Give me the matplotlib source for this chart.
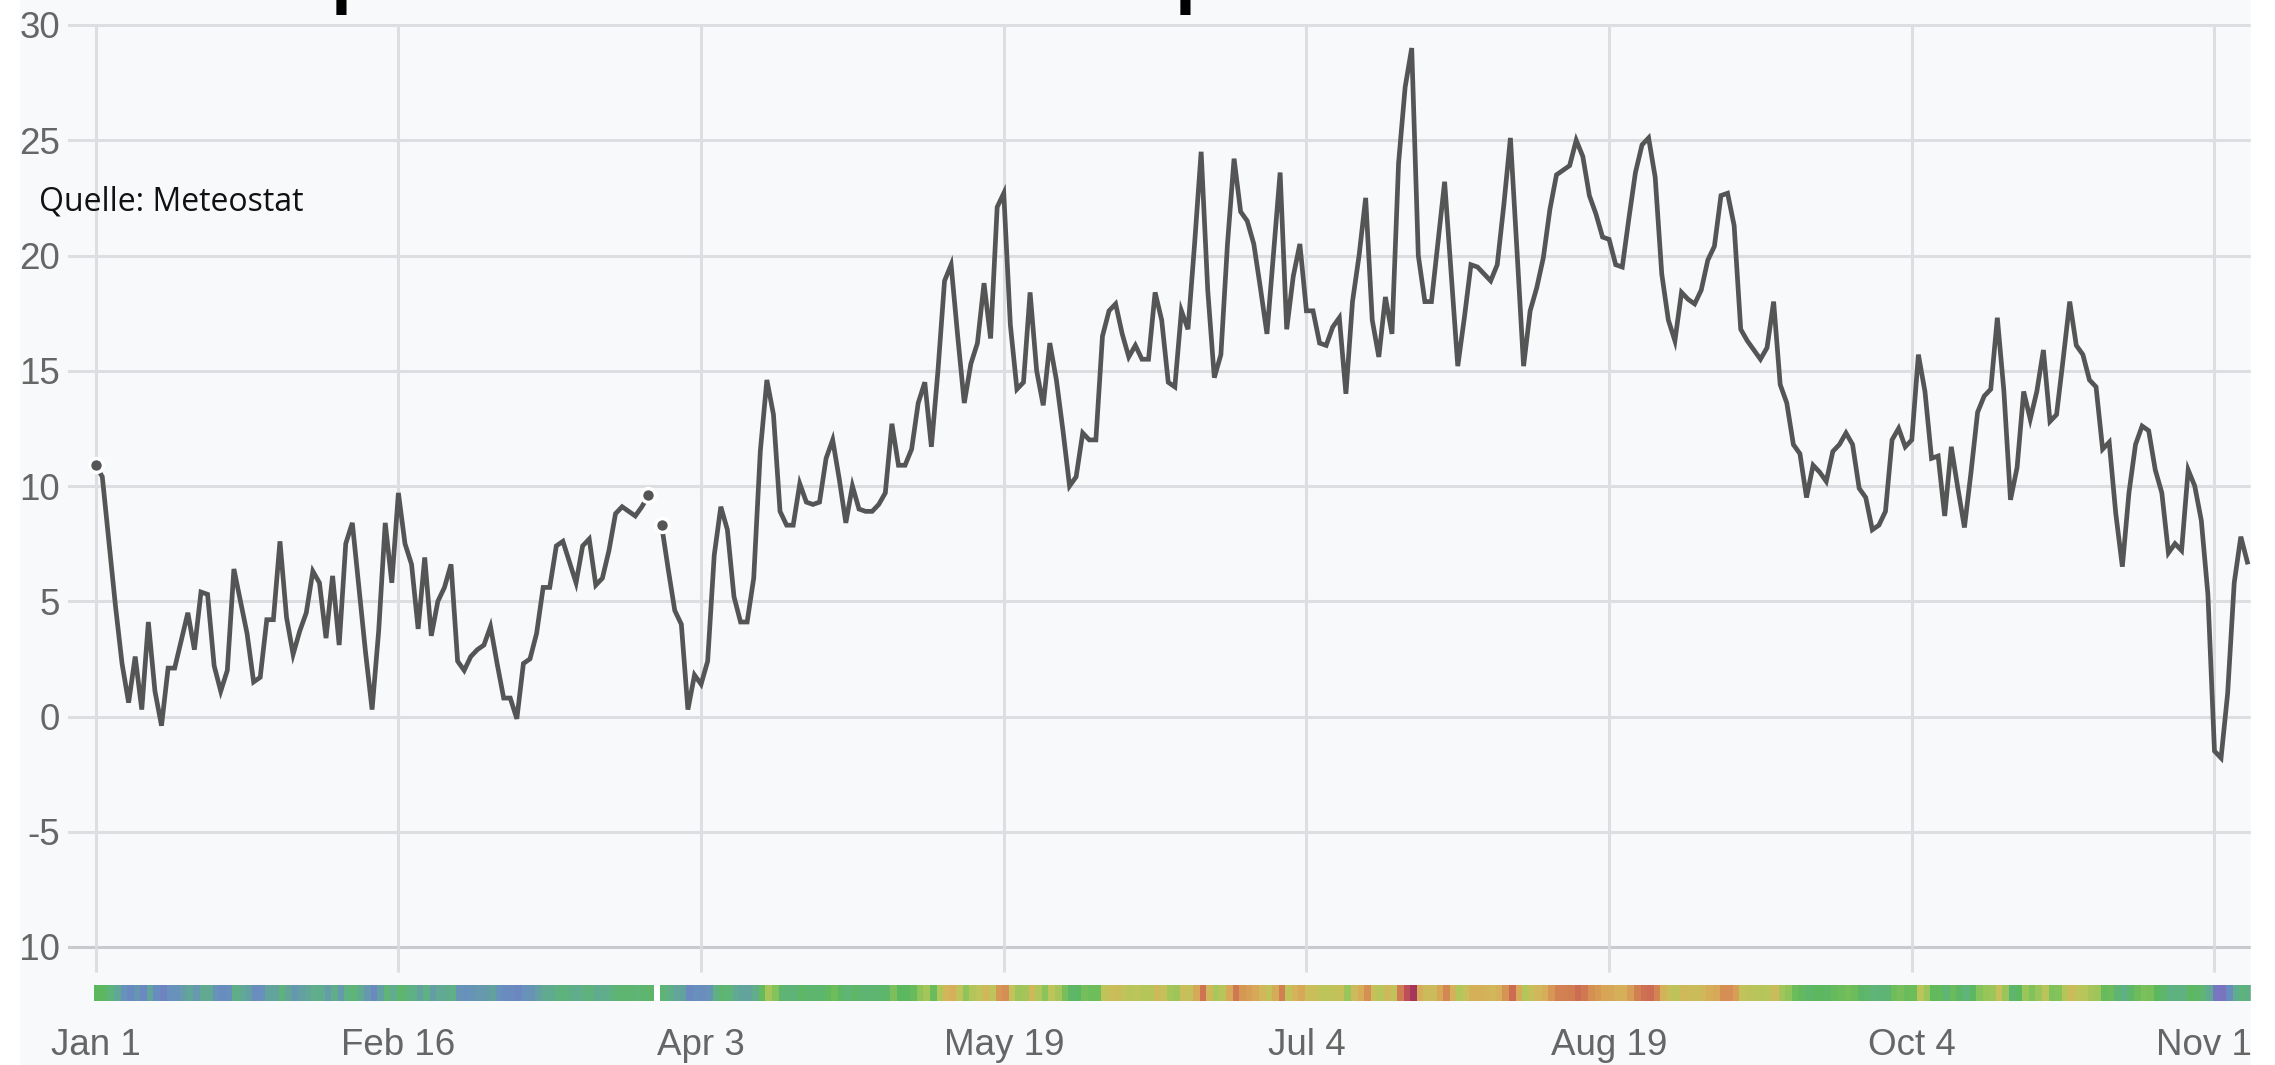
import numpy as np
import matplotlib.pyplot as plt
from matplotlib.colors import LinearSegmentedColormap, Normalize
from matplotlib.patches import Rectangle

W, H = 2275, 1065

# daily mean temperature, Jan 1 .. Nov 24 (day 85 missing)
temps = [
    10.9, 10.4, 7.6, 4.8, 2.3, 0.6, 2.6, 0.3, 4.1, 1.1,
    -0.4, 2.1, 2.1, 3.3, 4.5, 2.9, 5.4, 5.3, 2.2, 1.1,
    2.0, 6.4, 5.0, 3.6, 1.5, 1.7, 4.2, 4.2, 7.6, 4.3,
    2.7, 3.7, 4.5, 6.3, 5.8, 3.4, 6.1, 3.1, 7.5, 8.4,
    5.6, 2.8, 0.3, 3.7, 8.4, 5.8, 9.7, 7.5, 6.6, 3.8,
    6.9, 3.5, 5.0, 5.6, 6.6, 2.4, 2.0, 2.6, 2.9, 3.1,
    3.9, 2.3, 0.8, 0.8, -0.1, 2.3, 2.5, 3.6, 5.6, 5.6,
    7.4, 7.6, 6.7, 5.8, 7.4, 7.7, 5.7, 6.0, 7.2, 8.8,
    9.1, 8.9, 8.7, 9.1, 9.6, np.nan, 8.3, 6.4, 4.6, 4.0,
    0.3, 1.8, 1.4, 2.4, 7.0, 9.1, 8.1, 5.2, 4.1, 4.1,
    6.0, 11.5, 14.6, 13.1, 8.9, 8.3, 8.3, 10.1, 9.3, 9.2,
    9.3, 11.2, 12.0, 10.3, 8.4, 10.0, 9.0, 8.9, 8.9, 9.2,
    9.7, 12.7, 10.9, 10.9, 11.6, 13.6, 14.5, 11.7, 15.0, 18.9,
    19.6, 16.5, 13.6, 15.3, 16.2, 18.8, 16.4, 22.1, 22.7, 17.0,
    14.2, 14.5, 18.4, 15.0, 13.5, 16.2, 14.6, 12.4, 10.0, 10.4,
    12.3, 12.0, 12.0, 16.5, 17.6, 17.9, 16.6, 15.6, 16.1, 15.5,
    15.5, 18.4, 17.2, 14.5, 14.3, 17.6, 16.8, 20.5, 24.5, 18.5,
    14.7, 15.7, 20.5, 24.2, 21.9, 21.5, 20.5, 18.6, 16.6, 20.1,
    23.6, 16.8, 19.1, 20.5, 17.6, 17.6, 16.2, 16.1, 16.9, 17.3,
    14.0, 18.0, 20.0, 22.5, 17.2, 15.6, 18.2, 16.6, 24.0, 27.3,
    29.0, 20.0, 18.0, 18.0, 20.6, 23.2, 19.2, 15.2, 17.3, 19.6,
    19.5, 19.2, 18.9, 19.6, 22.2, 25.1, 20.2, 15.2, 17.6, 18.6,
    19.9, 22.0, 23.5, 23.7, 23.9, 25.0, 24.3, 22.6, 21.8, 20.8,
    20.7, 19.6, 19.5, 21.6, 23.6, 24.8, 25.1, 23.4, 19.2, 17.2,
    16.3, 18.4, 18.1, 17.9, 18.5, 19.8, 20.4, 22.6, 22.7, 21.3,
    16.8, 16.3, 15.9, 15.5, 16.0, 18.0, 14.4, 13.6, 11.8, 11.4,
    9.5, 10.9, 10.6, 10.2, 11.5, 11.8, 12.3, 11.8, 9.9, 9.5,
    8.1, 8.3, 8.9, 12.0, 12.5, 11.7, 12.0, 15.7, 14.1, 11.2,
    11.3, 8.7, 11.7, 9.9, 8.2, 10.6, 13.2, 13.9, 14.2, 17.3,
    14.1, 9.4, 10.8, 14.1, 12.9, 14.1, 15.9, 12.8, 13.1, 15.5,
    18.0, 16.1, 15.7, 14.6, 14.3, 11.6, 11.9, 8.8, 6.5, 9.7,
    11.8, 12.6, 12.4, 10.7, 9.7, 7.1, 7.5, 7.2, 10.7, 10.0,
    8.5, 5.3, -1.5, -1.8, 1.0, 5.8, 7.8, 6.7,
]

tick_days = [0, 46, 92, 138, 184, 230, 276, 322]
tick_labels = ['Jan 1', 'Feb 16', 'Apr 3', 'May 19', 'Jul 4', 'Aug 19', 'Oct 4', 'Nov 19']
y_ticks = [-10, -5, 0, 5, 10, 15, 20, 25, 30]

# temperature colour scale for the strip under the chart
scale_vals = [-2, 0, 2, 4, 6, 8, 11, 13.5, 15, 17, 19, 21, 23, 25, 27, 29.5]
scale_cols = ['#7a72c0', '#6a88c0', '#6890bc', '#62a39c', '#60ad8c', '#5eb47a',
              '#5cb85c', '#8cc45a', '#b0c65a', '#c4c25a', '#d4b45a', '#d8a456',
              '#d48a52', '#cc6e52', '#c4545a', '#a0305a']

temps = np.array(temps, dtype=float)
days = np.arange(len(temps))

plt.rcParams['font.family'] = ['Liberation Sans', 'DejaVu Sans']

bg = '#f8f9fb'
grid_c = '#dddee2'
fig = plt.figure(figsize=(W / 100, H / 100), dpi=100, facecolor=bg)


def box(x0, y0, x1, y1):
    return [x0 / W, 1 - y1 / H, (x1 - x0) / W, (y1 - y0) / H]


xlim = (-4.06, 327.55)

ax = fig.add_axes(box(69, 25, 2251, 947))
ax.set_facecolor('none')
ax.set_xlim(*xlim)
ax.set_ylim(-10, 30)
for s in ax.spines.values():
    s.set_visible(False)

for y in y_ticks:
    ax.axhline(y, color='#c9cacd' if y == -10 else grid_c, lw=2.2, clip_on=False, zorder=1)
for d in tick_days:
    ax.axvline(d, color=grid_c, lw=2.2, zorder=1)

ax.set_yticks(y_ticks)
ax.set_yticklabels([str(v) for v in y_ticks])
ax.set_xticks(tick_days)
ax.set_xticklabels(tick_labels)
ax.tick_params(axis='y', length=0, pad=6.5, labelsize=26.5, labelcolor='#666666')
ax.tick_params(axis='x', length=18, width=2.2, color=grid_c, pad=40,
               labelsize=26.5, labelcolor='#666666')

ax.plot(days, temps, color='#555555', lw=3.4, zorder=3, solid_joinstyle='miter')

# points at the start and around the missing day
isnan = np.isnan(temps)
prev_nan = np.r_[True, isnan[:-1]]
next_nan = np.r_[isnan[1:], False]
dots = ~isnan & (prev_nan | next_nan)
ax.plot(days[dots], temps[dots], 'o', ms=10, color='#555555', mec='white', mew=2.5,
        zorder=4, clip_on=False)

# colour strip
cmap = LinearSegmentedColormap.from_list(
    'temp', [((v - scale_vals[0]) / (scale_vals[-1] - scale_vals[0]), c)
             for v, c in zip(scale_vals, scale_cols)])
norm = Normalize(scale_vals[0], scale_vals[-1])
cols = [cmap(norm(t)) if not np.isnan(t) else 'white' for t in temps]

ax_s = fig.add_axes(box(69, 985, 2251, 1001))
ax_s.set_xlim(*xlim)
ax_s.set_ylim(0, 1)
ax_s.bar(days + 0.3, 1, width=1.04, bottom=0, color=cols, linewidth=0)
ax_s.axis('off')

fig.text(39 / W, 1 - 211 / H, 'Quelle: Meteostat', fontsize=23, family='Open Sans',
         color='#111111', va='baseline')

# descenders of the cut-off title
for x in [331, 1175]:
    fig.text(x / W, 1 + 2 / H, 'p', fontsize=50, weight='bold', family='Open Sans',
             color='black', va='baseline', ha='left')

# the canvas is cropped left and right
fig.add_artist(Rectangle((0, 0), 19 / W, 1, transform=fig.transFigure,
                         color='white', zorder=20))
fig.add_artist(Rectangle((2251 / W, 0), 1, 1, transform=fig.transFigure,
                         color='white', zorder=20))

fig.savefig('out.png', dpi=100, facecolor=bg)
